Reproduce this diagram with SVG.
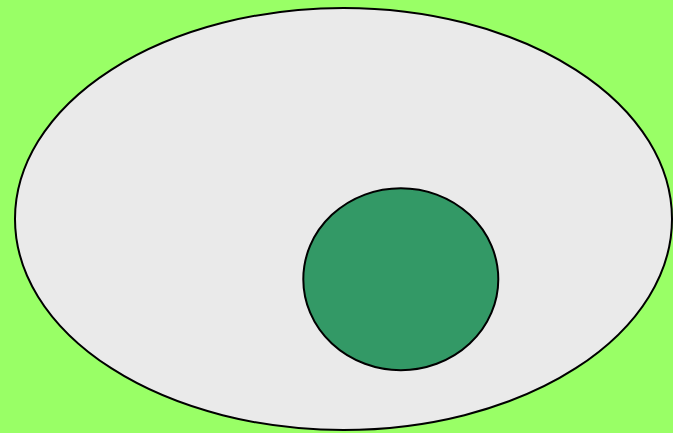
<svg xmlns="http://www.w3.org/2000/svg" width="673" height="433" viewBox="0 0 673 433">
<style>
.s{stroke:#000;stroke-width:2}
</style>
<rect width="673" height="433" fill="#99ff66"/>
<g id="outer"><ellipse class="s" cx="343.5" cy="219" rx="328.5" ry="211" fill="#eaeaea"/></g>
<g id="inner"><ellipse class="s" cx="400.8" cy="279.2" rx="97.5" ry="91" fill="#339966"/></g>
<g id="connectors"></g>
</svg>
